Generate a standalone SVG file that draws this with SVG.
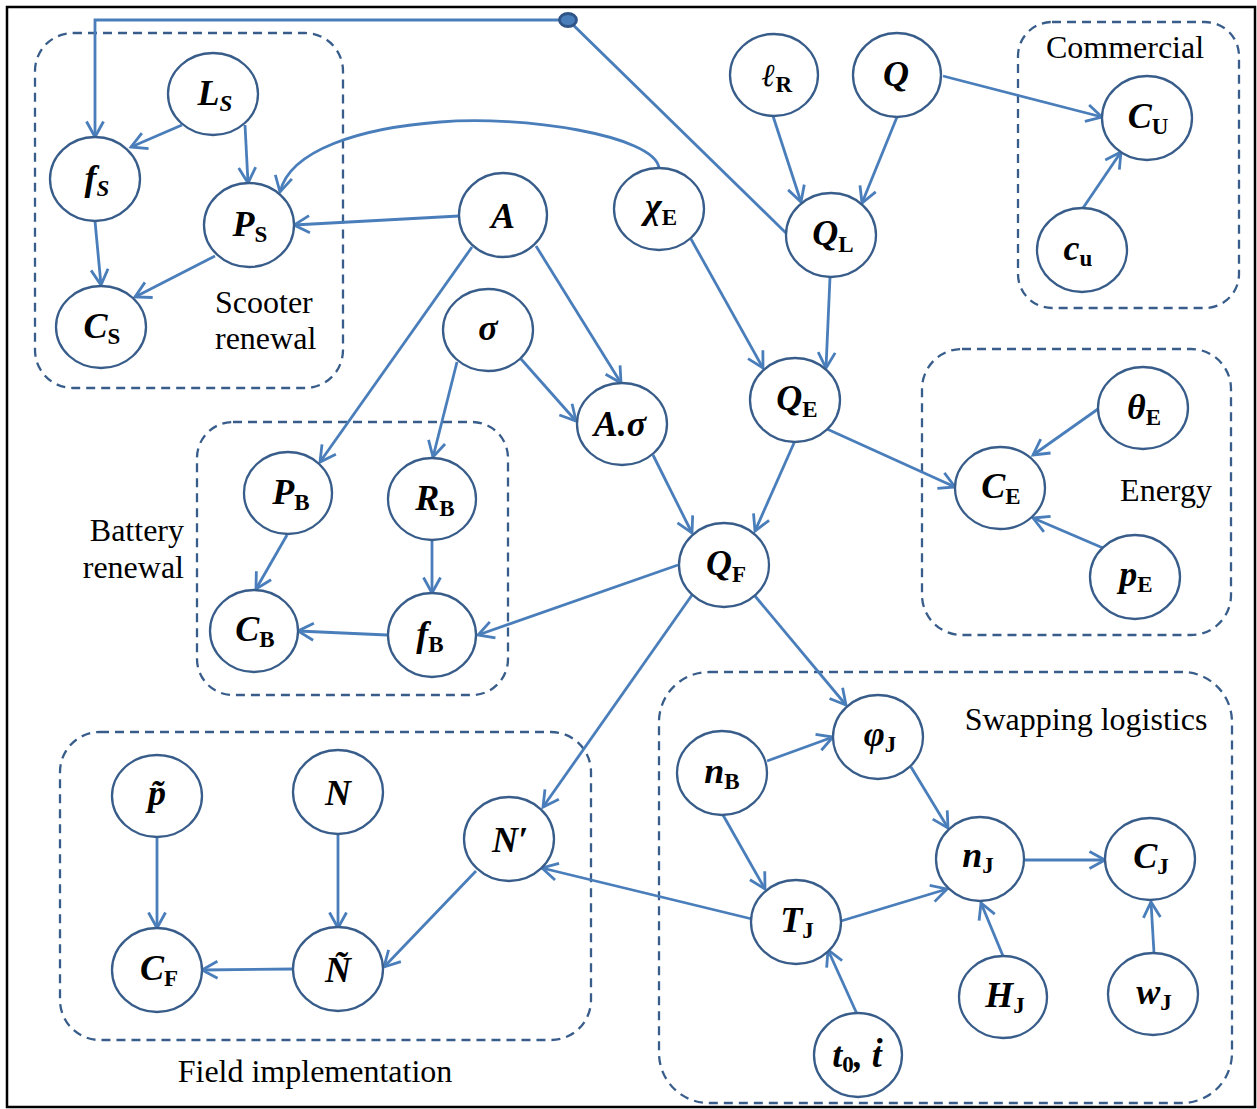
<svg xmlns="http://www.w3.org/2000/svg" width="1257" height="1109" viewBox="0 0 1257 1109">
<style>
.n{fill:#fff;stroke:#385d8a;stroke-width:2.3}
.box{fill:none;stroke:#385d8a;stroke-width:2.3;stroke-dasharray:9 6}
.c{fill:none;stroke:#4a7ebb;stroke-width:2.8;marker-end:url(#arr)}
.lb{font-family:"Liberation Serif","DejaVu Serif",serif;font-weight:bold;font-style:italic;font-size:36px;fill:#000;text-anchor:middle}
.sb{font-style:normal;font-size:23px}
.si{font-size:23px}
.t{font-family:"Liberation Serif","Times New Roman",serif;font-size:32px;fill:#000}
</style>
<defs>
<marker id="arr" viewBox="0 0 20 20" refX="17.5" refY="10" markerWidth="20" markerHeight="20" orient="auto" markerUnits="userSpaceOnUse">
<path d="M2,1.5 L17.5,10 L2,18.5" fill="none" stroke="#4a7ebb" stroke-width="2.8"/>
</marker>
</defs>
<rect x="0" y="0" width="1257" height="1109" fill="#fff"/>
<rect x="7" y="7" width="1248" height="1100" fill="none" stroke="#000" stroke-width="2.5"/>

<g id="groups">
<rect class="box" x="35" y="33" width="308" height="355" rx="38"/>
<rect class="box" x="197" y="422" width="311" height="273" rx="36"/>
<rect class="box" x="1018" y="22" width="221" height="286" rx="34"/>
<rect class="box" x="922" y="349" width="309" height="286" rx="40"/>
<rect class="box" x="60" y="732" width="531" height="308" rx="40"/>
<rect class="box" x="659" y="672" width="573" height="431" rx="50"/>
<text class="t" x="215" y="313">Scooter</text>
<text class="t" x="215" y="349">renewal</text>
<text class="t" x="184" y="541" text-anchor="end">Battery</text>
<text class="t" x="184" y="578" text-anchor="end">renewal</text>
<text class="t" x="1125" y="58" text-anchor="middle">Commercial</text>
<text class="t" x="1166" y="501" text-anchor="middle">Energy</text>
<text class="t" x="1086" y="730" text-anchor="middle">Swapping logistics</text>
<text class="t" x="315" y="1082" text-anchor="middle">Field implementation</text>
</g>

<g id="connectors">
<polyline class="c" points="786,233 568,20 95,20 95,137"/>
<path class="c" d="M659,168 C655,135 520,115 440,122 C360,128 290,150 280,192"/>
<line class="c" x1="182" y1="125" x2="131" y2="147"/>
<line class="c" x1="245" y1="125" x2="248" y2="183"/>
<line class="c" x1="95" y1="221" x2="101" y2="285"/>
<line class="c" x1="215" y1="256" x2="135" y2="297"/>
<line class="c" x1="459" y1="216" x2="294" y2="225"/>
<line class="c" x1="472" y1="247" x2="320" y2="462"/>
<line class="c" x1="536" y1="246" x2="621" y2="383"/>
<line class="c" x1="457" y1="362" x2="433" y2="457"/>
<line class="c" x1="521" y1="359" x2="576" y2="421"/>
<line class="c" x1="653" y1="455" x2="692" y2="533"/>
<line class="c" x1="287" y1="535" x2="256" y2="589"/>
<line class="c" x1="432" y1="540" x2="432" y2="593"/>
<line class="c" x1="387" y1="635" x2="298" y2="631"/>
<line class="c" x1="678" y1="565" x2="478" y2="635"/>
<line class="c" x1="691" y1="239" x2="763" y2="368"/>
<line class="c" x1="830" y1="277" x2="826" y2="368"/>
<line class="c" x1="773" y1="116" x2="801" y2="202"/>
<line class="c" x1="897" y1="117" x2="862" y2="203"/>
<line class="c" x1="943" y1="76" x2="1102" y2="117"/>
<line class="c" x1="1083" y1="208" x2="1121" y2="152"/>
<line class="c" x1="827" y1="429" x2="955" y2="487"/>
<line class="c" x1="1098" y1="409" x2="1033" y2="455"/>
<line class="c" x1="1103" y1="548" x2="1033" y2="518"/>
<line class="c" x1="794" y1="443" x2="755" y2="531"/>
<line class="c" x1="692" y1="595" x2="543" y2="807"/>
<line class="c" x1="755" y1="596" x2="846" y2="705"/>
<line class="c" x1="767" y1="761" x2="833" y2="737"/>
<line class="c" x1="723" y1="815" x2="765" y2="889"/>
<line class="c" x1="911" y1="767" x2="948" y2="828"/>
<line class="c" x1="841" y1="921" x2="947" y2="889"/>
<line class="c" x1="1025" y1="860" x2="1105" y2="860"/>
<line class="c" x1="1003" y1="956" x2="981" y2="903"/>
<line class="c" x1="1154" y1="953" x2="1151" y2="902"/>
<line class="c" x1="857" y1="1014" x2="828" y2="950"/>
<line class="c" x1="752" y1="919" x2="542" y2="868"/>
<line class="c" x1="476" y1="871" x2="384" y2="967"/>
<line class="c" x1="338" y1="833" x2="338" y2="928"/>
<line class="c" x1="157" y1="837" x2="157" y2="928"/>
<line class="c" x1="293" y1="969" x2="202" y2="970"/>
<ellipse cx="568" cy="20" rx="8.5" ry="6.5" fill="#4a7ebb" stroke="#2f5487" stroke-width="2.8"/>
</g>

<g id="LS"><ellipse class="n" cx="213" cy="94" rx="45" ry="41"/><text class="lb" x="215" y="105">L<tspan class="si" dy="6">S</tspan></text></g>
<g id="fS"><ellipse class="n" cx="95" cy="179" rx="45" ry="42"/><text class="lb" x="97" y="190">f<tspan class="si" dy="6">S</tspan></text></g>
<g id="PS"><ellipse class="n" cx="249" cy="225" rx="45" ry="42"/><text class="lb" x="250" y="236">P<tspan class="sb" dy="6">S</tspan></text></g>
<g id="CS"><ellipse class="n" cx="101" cy="327" rx="45" ry="41"/><text class="lb" x="102" y="338">C<tspan class="sb" dy="6">S</tspan></text></g>
<g id="A"><ellipse class="n" cx="503" cy="215" rx="44" ry="42"/><text class="lb" x="503" y="228">A</text></g>
<g id="chiE"><ellipse class="n" cx="659" cy="209" rx="45" ry="41"/><text class="lb" x="661" y="218">χ<tspan class="sb" dy="7">E</tspan></text></g>
<g id="lR"><ellipse class="n" cx="774" cy="75" rx="44" ry="41"/><text class="lb" x="777" y="86"><tspan font-family="DejaVu Serif" font-size="32">ℓ</tspan><tspan class="sb" dy="6">R</tspan></text></g>
<g id="Q"><ellipse class="n" cx="897" cy="75" rx="44" ry="42"/><text class="lb" x="896" y="86">Q</text></g>
<g id="QL"><ellipse class="n" cx="831" cy="235" rx="45" ry="42"/><text class="lb" x="833" y="245">Q<tspan class="sb" dy="7">L</tspan></text></g>
<g id="CU"><ellipse class="n" cx="1147" cy="118" rx="45" ry="42"/><text class="lb" x="1148" y="128">C<tspan class="sb" dy="6">U</tspan></text></g>
<g id="cu"><ellipse class="n" cx="1082" cy="250" rx="45" ry="42"/><text class="lb" x="1078" y="260">c<tspan class="sb" dy="6">u</tspan></text></g>
<g id="sigma"><ellipse class="n" cx="488" cy="330" rx="45" ry="41"/><text class="lb" x="488" y="340">σ</text></g>
<g id="Asigma"><ellipse class="n" cx="622" cy="424" rx="45" ry="41"/><text class="lb" x="620" y="436">A.σ</text></g>
<g id="PB"><ellipse class="n" cx="288" cy="493" rx="44" ry="41"/><text class="lb" x="291" y="504">P<tspan class="sb" dy="6">B</tspan></text></g>
<g id="RB"><ellipse class="n" cx="432" cy="499" rx="44" ry="41"/><text class="lb" x="435" y="510">R<tspan class="sb" dy="6">B</tspan></text></g>
<g id="CB"><ellipse class="n" cx="254" cy="631" rx="44" ry="41"/><text class="lb" x="255" y="641">C<tspan class="sb" dy="6">B</tspan></text></g>
<g id="fB"><ellipse class="n" cx="432" cy="635" rx="44" ry="42"/><text class="lb" x="430" y="646">f<tspan class="sb" dy="6">B</tspan></text></g>
<g id="QF"><ellipse class="n" cx="724" cy="565" rx="45" ry="42"/><text class="lb" x="726" y="575">Q<tspan class="sb" dy="7">F</tspan></text></g>
<g id="QE"><ellipse class="n" cx="795" cy="400" rx="45" ry="42"/><text class="lb" x="797" y="410">Q<tspan class="sb" dy="7">E</tspan></text></g>
<g id="CE"><ellipse class="n" cx="1000" cy="488" rx="45" ry="41"/><text class="lb" x="1001" y="498">C<tspan class="sb" dy="6">E</tspan></text></g>
<g id="thetaE"><ellipse class="n" cx="1143" cy="408" rx="45" ry="41"/><text class="lb" x="1144" y="419">θ<tspan class="sb" dy="6">E</tspan></text></g>
<g id="pE"><ellipse class="n" cx="1135" cy="577" rx="45" ry="42"/><text class="lb" x="1136" y="586">p<tspan class="sb" dy="6">E</tspan></text></g>
<g id="ptilde"><ellipse class="n" cx="157" cy="796" rx="45" ry="41"/><text class="lb" x="157" y="805">p̃</text></g>
<g id="N"><ellipse class="n" cx="338" cy="792" rx="45" ry="42"/><text class="lb" x="338" y="805">N</text></g>
<g id="Nprime"><ellipse class="n" cx="509" cy="839" rx="45" ry="42"/><text class="lb" x="510" y="852">N′</text></g>
<g id="CF"><ellipse class="n" cx="157" cy="970" rx="45" ry="42"/><text class="lb" x="159" y="980">C<tspan class="sb" dy="6">F</tspan></text></g>
<g id="Ntilde"><ellipse class="n" cx="338" cy="969" rx="45" ry="42"/><text class="lb" x="338" y="982">Ñ</text></g>
<g id="phiJ"><ellipse class="n" cx="878" cy="737" rx="45" ry="42"/><text class="lb" x="880" y="746">φ<tspan class="sb" dy="6">J</tspan></text></g>
<g id="nB"><ellipse class="n" cx="722" cy="773" rx="45" ry="42"/><text class="lb" x="722" y="783">n<tspan class="sb" dy="6">B</tspan></text></g>
<g id="nJ"><ellipse class="n" cx="980" cy="859" rx="44" ry="42"/><text class="lb" x="978" y="867">n<tspan class="sb" dy="6">J</tspan></text></g>
<g id="CJ"><ellipse class="n" cx="1150" cy="859" rx="45" ry="41"/><text class="lb" x="1151" y="868">C<tspan class="sb" dy="6">J</tspan></text></g>
<g id="TJ"><ellipse class="n" cx="796" cy="922" rx="45" ry="42"/><text class="lb" x="797" y="932">T<tspan class="sb" dy="6">J</tspan></text></g>
<g id="HJ"><ellipse class="n" cx="1003" cy="997" rx="44" ry="41"/><text class="lb" x="1005" y="1007">H<tspan class="sb" dy="6">J</tspan></text></g>
<g id="wJ"><ellipse class="n" cx="1153" cy="994" rx="45" ry="41"/><text class="lb" x="1154" y="1004">w<tspan class="sb" dy="6">J</tspan></text></g>
<g id="t0"><ellipse class="n" cx="858" cy="1055" rx="44" ry="42"/><text class="lb" x="857" y="1067">t<tspan class="sb" dy="5">0</tspan><tspan dy="-5">, ṫ</tspan></text></g>
</svg>
